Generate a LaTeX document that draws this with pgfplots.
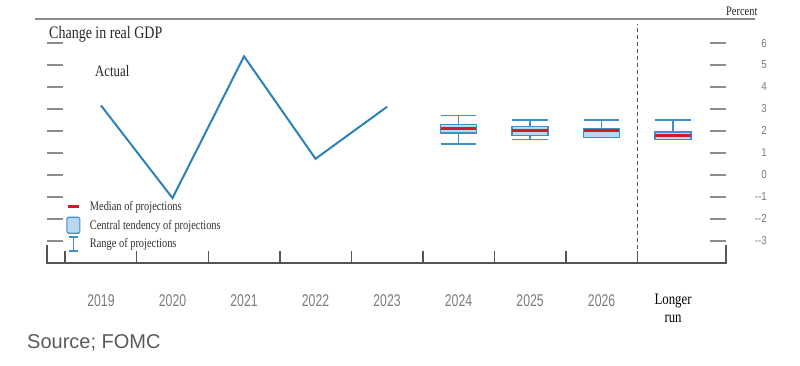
\documentclass[border=0pt]{standalone}
\usepackage{fontspec}
\usepackage{pgfplots}
\pgfplotsset{compat=1.18}
\usepgfplotslibrary{statistics}
\setmainfont{Liberation Serif}
\newfontfamily\cserif{Liberation Serif}[FakeStretch=0.8]
\newfontfamily\csans{Liberation Sans}[FakeStretch=0.72]
\newfontfamily\ysans{Liberation Sans}[FakeStretch=0.85]
\newfontfamily\arial{Liberation Sans}
\definecolor{lineblue}{RGB}{42,130,185}
\definecolor{boxblue}{RGB}{62,145,200}
\definecolor{boxfill}{RGB}{188,214,240}
\definecolor{medred}{RGB}{205,28,45}
\definecolor{titleblack}{RGB}{38,38,38}
\definecolor{legtext}{RGB}{50,50,50}
\definecolor{labgray}{RGB}{122,122,122}
\definecolor{tickgray}{RGB}{140,140,140}
\definecolor{axgray}{RGB}{85,85,85}
\definecolor{topgray}{RGB}{138,138,138}
\definecolor{srcgray}{RGB}{90,90,90}
\begin{document}
\begin{tikzpicture}[x=1pt,y=1pt]
\useasboundingbox (0,0) rectangle (800,-365);
\begin{axis}[
  at={(47pt,-263pt)}, anchor=south west,
  scale only axis, width=679pt, height=244pt,
  xmin=-0.755, xmax=8.74, ymin=-4.02, ymax=7.1,
  axis line style={draw=none},
  xtick={0,...,8},
  xticklabels={2019,2020,2021,2022,2023,2024,2025,2026,{\cserif\fontsize{16}{17.5}\selectfont\color{black}Longer\\\cserif\fontsize{16}{17.5}\selectfont\color{black}run}},
  minor xtick={-0.5,0.5,...,7.5},
  xtick pos=left,
  major x tick style={draw=none},
  minor x tick style={draw=axgray, line width=1.5pt},
  minor tick length=12pt,
  xticklabel style={font=\csans\fontsize{17}{17.5}\selectfont, text=labgray, anchor=north, inner sep=0pt, yshift=-31pt, align=center},
  ytick={-3,...,6},
  yticklabels={--3,--2,--1,0,1,2,3,4,5,6},
  ytick pos=both, yticklabel pos=right,
  major y tick style={draw=tickgray, line width=1.8pt},
  tick align=inside,
  major tick length=16pt,
  yticklabel style={font=\ysans\fontsize{11.5}{13}\selectfont, text=labgray, anchor=east, inner sep=0pt, xshift=41pt},
  boxplot/draw direction=y,
  boxplot/box extend=0.5,
  boxplot/whisker extend=0.5,
  boxplot/every box/.style={draw=boxblue, fill=boxfill, line width=1.5pt},
  boxplot/every whisker/.style={draw=boxblue, line width=1.5pt},
  boxplot/every median/.style={draw=medred, line width=3pt},
  legend style={at={(axis description cs:0.029,0.262)}, anchor=north west, draw=none, fill=none, inner sep=0pt,
    font=\cserif\fontsize{13}{15}\selectfont, text=legtext, row sep=4pt,
    nodes={inner sep=2pt},
    /tikz/every odd column/.append style={column sep=8pt}},
  legend cell align=left,
]
\addplot[lineblue, line width=2pt, forget plot] coordinates {(0,3.16) (1,-1.06) (2,5.4) (3,0.73) (4,3.1)};
\addplot[forget plot, draw=boxblue, boxplot prepared={draw position=5, lower whisker=1.4, lower quartile=1.9, median=2.1, upper quartile=2.3, upper whisker=2.7}] coordinates {};
\addplot[forget plot, draw=boxblue, boxplot prepared={draw position=6, lower whisker=1.6, lower quartile=1.8, median=2.0, upper quartile=2.2, upper whisker=2.5}] coordinates {};
\addplot[forget plot, draw=boxblue, boxplot prepared={draw position=7, lower whisker=1.7, lower quartile=1.7, median=2.0, upper quartile=2.1, upper whisker=2.5}] coordinates {};
\addplot[forget plot, draw=boxblue, boxplot prepared={draw position=8, lower whisker=1.6, lower quartile=1.6, median=1.8, upper quartile=1.95, upper whisker=2.5}] coordinates {};
\addplot[forget plot, axgray, line width=1.6pt, dash pattern=on 4pt off 3pt] coordinates {(7.5,-4.02) (7.5,6.86)};
\addlegendimage{legend image code/.code={
  \path[draw=none, fill=none] (0pt,-5pt) rectangle (13pt,5pt);
  \draw[overlay, medred, line width=3pt] (1pt,0pt) -- (12pt,0pt);}}
\addlegendentry{Median of projections}
\addlegendimage{legend image code/.code={
  \path[draw=none, fill=none] (0pt,-5pt) rectangle (13pt,5pt);
  \draw[overlay, boxblue, fill=boxfill, line width=1.2pt, rounded corners=1.5pt] (0pt,-8pt) rectangle (13pt,8pt);}}
\addlegendentry{Central tendency of projections}
\addlegendimage{legend image code/.code={
  \path[draw=none, fill=none] (0pt,-5pt) rectangle (13pt,5pt);
  \draw[overlay, boxblue, line width=1.5pt] (2pt,7pt) -- (11pt,7pt) (6.5pt,7pt) -- (6.5pt,-7pt) (2pt,-7pt) -- (11pt,-7pt);}}
\addlegendentry{Range of projections}
\end{axis}
\draw[axgray, line width=1.5pt] (47,-245) -- (47,-263) -- (726,-263) -- (726,-245);
\draw[topgray, line width=1.5pt] (35,-19) -- (755,-19);
\node[anchor=base west, inner sep=0pt, font=\cserif\fontsize{17.5}{20}\selectfont, text=titleblack] at (49,-38) {Change in real GDP};
\node[anchor=base west, inner sep=0pt, font=\cserif\fontsize{16}{19}\selectfont, text=titleblack] at (95,-76) {Actual};
\node[anchor=base west, inner sep=0pt, font=\cserif\fontsize{13}{15}\selectfont, text=titleblack] at (726,-15.5) {Percent};
\node[anchor=base west, inner sep=0pt, font=\arial\fontsize{20}{24}\selectfont, text=srcgray] at (27,-348) {Source; FOMC};
\end{tikzpicture}
\end{document}
